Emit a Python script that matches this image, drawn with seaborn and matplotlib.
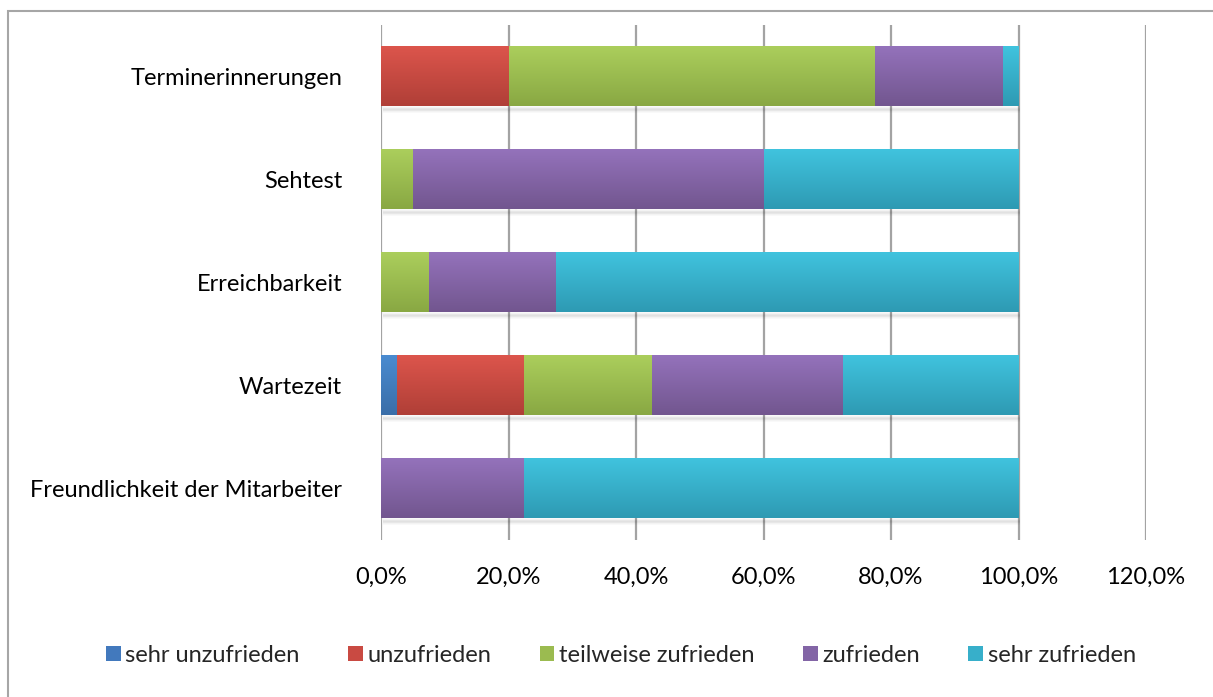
import numpy as np
import pandas as pd
import seaborn as sns
import matplotlib.pyplot as plt
from matplotlib.patches import Patch, Rectangle
from matplotlib.colors import to_rgb

categories = ["Terminerinnerungen", "Sehtest", "Erreichbarkeit", "Wartezeit",
              "Freundlichkeit der Mitarbeiter"]
levels = ["sehr unzufrieden", "unzufrieden", "teilweise zufrieden", "zufrieden", "sehr zufrieden"]
sehr_unzufrieden = [0.0, 0.0, 0.0, 2.5, 0.0]
unzufrieden = [20.0, 0.0, 0.0, 20.0, 0.0]
teilweise_zufrieden = [57.5, 5.0, 7.5, 20.0, 0.0]
zufrieden = [20.0, 55.0, 20.0, 30.0, 22.5]
sehr_zufrieden = [2.5, 40.0, 72.5, 27.5, 77.5]
tick_values = [0, 20, 40, 60, 80, 100, 120]
tick_labels = ["0,0%", "20,0%", "40,0%", "60,0%", "80,0%", "100,0%", "120,0%"]

# top / bottom colours of the excel-like gradient
top_cols = ["#4a8bd0", "#dc554c", "#abce5c", "#9472bb", "#40c3de"]
bot_cols = ["#3a6ea8", "#b03f37", "#89a843", "#72568f", "#2e9ab3"]
mid_cols = ["#4279bd", "#c94a42", "#9bbb50", "#8365a6", "#37afca"]

sns.set_style("white")
plt.rcParams["font.family"] = ["Lato", "DejaVu Sans"]
FS = 17

df = pd.DataFrame({"Kategorie": categories})
series = [sehr_unzufrieden, unzufrieden, teilweise_zufrieden, zufrieden, sehr_zufrieden]
cum = np.cumsum(np.array(series), axis=0)

fig = plt.figure(figsize=(12.13, 6.97), dpi=100)
ax = fig.add_axes([381 / 1213, 1 - 540 / 697, (1146 - 381) / 1213, (540 - 25) / 697])

# vertical grid drawn first
for t in tick_values:
    ax.axvline(t, color="#a3a3a3", lw=1.6, zorder=0)

# stacked bars: draw cumulative totals from largest to smallest
for i in range(len(levels) - 1, -1, -1):
    df["v"] = cum[i]
    sns.barplot(data=df, x="v", y="Kategorie", orient="h", color=mid_cols[i],
                width=0.58, ax=ax, saturation=1, linewidth=0, zorder=2)

# gradients on the visible part of each segment
for i, s in enumerate(series):
    for j, val in enumerate(s):
        if val <= 0:
            continue
        left = cum[i][j] - val
        y0 = j - 0.29
        grad = np.linspace(0, 1, 64)[:, None]
        c1, c2 = np.array(to_rgb(top_cols[i])), np.array(to_rgb(bot_cols[i]))
        img = (c1[None, None, :] * (1 - grad[..., None]) + c2[None, None, :] * grad[..., None])
        ax.imshow(img, extent=(left, left + val, y0 + 0.58, y0), aspect="auto",
                  zorder=3, interpolation="bilinear")

# soft shadow under each bar
for j in range(len(categories)):
    for k in range(6):
        ax.add_patch(Rectangle((0.3, j + 0.29 + k * 0.006), 100, 0.03,
                               color="#000000", alpha=0.025, lw=0, zorder=1))

ax.set_xlim(0, 120)
ax.set_ylim(len(categories) - 0.5, -0.5)
ax.set_xticks(tick_values)
ax.set_xticklabels(tick_labels)
ax.set_xlabel("")
ax.set_ylabel("")
ax.tick_params(axis="x", length=0, pad=19, labelsize=FS, colors="#000000")
ax.tick_params(axis="y", length=0, pad=28, labelsize=FS, colors="#000000")
for sp in ax.spines.values():
    sp.set_visible(False)

handles = [Patch(facecolor=mid_cols[i], edgecolor="none") for i in range(len(levels))]
fig.legend(handles, levels, loc="center", bbox_to_anchor=(621 / 1213, 1 - 655 / 697),
           ncol=5, frameon=False, fontsize=FS, handlelength=0.62, handleheight=0.62,
           handletextpad=0.2, columnspacing=2.05)

# outer chart frame
fig.add_artist(Rectangle((8 / 1213, -0.1), 1.2, 1 - 11 / 697 + 0.1, transform=fig.transFigure,
                         fill=False, edgecolor="#a6a6a6", lw=1.5))

fig.savefig("out.png", dpi=100)
